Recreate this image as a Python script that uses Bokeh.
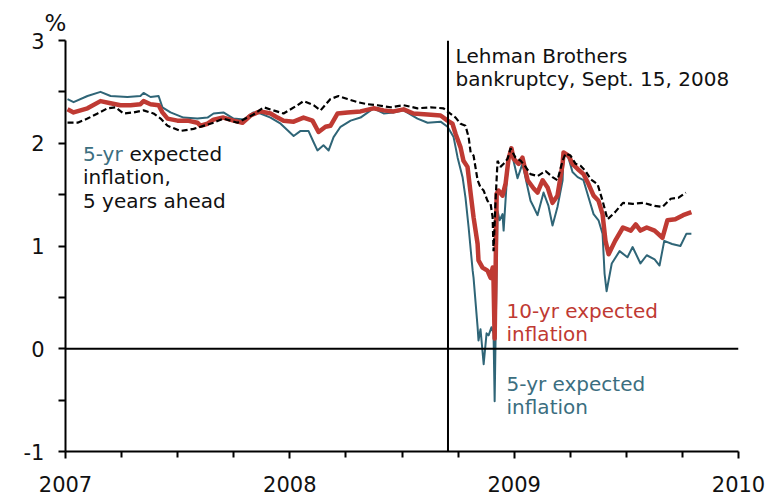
from bokeh.plotting import figure
from bokeh.models import Span, Label, FixedTicker, Title, CustomJSTickFormatter
from bokeh.embed import file_html
from bokeh.resources import INLINE

# ---------------- data (decimal years, percent) ----------------
# 10-yr expected inflation (red)
T10 = [2007.009, 2007.036, 2007.098, 2007.156, 2007.201, 2007.245, 2007.290, 2007.334,
       2007.348, 2007.379, 2007.415, 2007.432, 2007.455, 2007.499, 2007.544, 2007.588,
       2007.602, 2007.633, 2007.660, 2007.704, 2007.749, 2007.789, 2007.825, 2007.856,
       2007.869, 2007.914, 2007.945, 2007.972, 2008.017, 2008.061, 2008.101, 2008.128,
       2008.159, 2008.181, 2008.213, 2008.257, 2008.315, 2008.373, 2008.418, 2008.462,
       2008.507, 2008.551, 2008.614, 2008.672, 2008.703, 2008.725, 2008.739, 2008.761,
       2008.774, 2008.792, 2008.806, 2008.819, 2008.837, 2008.841, 2008.859, 2008.881,
       2008.895, 2008.904, 2008.908, 2008.913, 2008.922, 2008.930, 2008.948, 2008.962,
       2008.975, 2008.988, 2008.997, 2009.020, 2009.037, 2009.060, 2009.087, 2009.104,
       2009.127, 2009.149, 2009.171, 2009.193, 2009.216, 2009.220, 2009.242, 2009.260,
       2009.283, 2009.309, 2009.332, 2009.354, 2009.376, 2009.394, 2009.407, 2009.421,
       2009.450, 2009.485, 2009.520, 2009.542, 2009.563, 2009.591, 2009.626, 2009.661,
       2009.683, 2009.718, 2009.753, 2009.790]
V10 = [2.33, 2.30, 2.34, 2.41, 2.39, 2.37, 2.37, 2.38,
       2.41, 2.38, 2.37, 2.30, 2.24, 2.22, 2.22, 2.20,
       2.17, 2.19, 2.23, 2.25, 2.22, 2.20, 2.27, 2.30,
       2.31, 2.29, 2.25, 2.22, 2.21, 2.25, 2.22, 2.11,
       2.16, 2.17, 2.29, 2.30, 2.31, 2.34, 2.32, 2.31,
       2.33, 2.29, 2.28, 2.27, 2.22, 2.19, 2.09, 1.96,
       1.83, 1.77, 1.51, 1.28, 1.02, 0.86, 0.79, 0.76,
       0.69, 0.79, 0.66, 0.10, 1.51, 1.54, 1.49, 1.61,
       1.85, 1.95, 1.85, 1.80, 1.86, 1.64, 1.56, 1.52,
       1.64, 1.57, 1.42, 1.49, 1.80, 1.91, 1.88, 1.80,
       1.75, 1.70, 1.60, 1.49, 1.44, 1.31, 1.05, 0.92,
       1.05, 1.18, 1.15, 1.21, 1.15, 1.18, 1.15, 1.08,
       1.25, 1.26, 1.30, 1.33]

# 5-yr expected inflation (teal)
T5 = [2007.009, 2007.036, 2007.098, 2007.156, 2007.201, 2007.276, 2007.334, 2007.348,
      2007.379, 2007.415, 2007.432, 2007.468, 2007.526, 2007.588, 2007.633, 2007.660,
      2007.704, 2007.749, 2007.794, 2007.838, 2007.869, 2007.914, 2007.959, 2008.017,
      2008.048, 2008.083, 2008.106, 2008.123, 2008.150, 2008.173, 2008.195, 2008.226,
      2008.271, 2008.315, 2008.373, 2008.418, 2008.462, 2008.507, 2008.569, 2008.614,
      2008.672, 2008.703, 2008.730, 2008.748, 2008.770, 2008.783, 2008.797, 2008.815,
      2008.819, 2008.837, 2008.841, 2008.850, 2008.864, 2008.877, 2008.886, 2008.899,
      2008.908, 2008.913, 2008.917, 2008.926, 2008.935, 2008.948, 2008.953, 2008.971,
      2008.984, 2008.997, 2009.015, 2009.037, 2009.060, 2009.073, 2009.087, 2009.104,
      2009.131, 2009.153, 2009.171, 2009.193, 2009.216, 2009.220, 2009.242, 2009.260,
      2009.283, 2009.309, 2009.332, 2009.354, 2009.376, 2009.394, 2009.403, 2009.412,
      2009.435, 2009.470, 2009.505, 2009.528, 2009.563, 2009.591, 2009.626, 2009.648,
      2009.669, 2009.704, 2009.741, 2009.768, 2009.790]
V5 = [2.43, 2.40, 2.46, 2.50, 2.46, 2.45, 2.46, 2.49,
      2.45, 2.46, 2.35, 2.30, 2.25, 2.24, 2.25, 2.29,
      2.30, 2.24, 2.23, 2.30, 2.29, 2.25, 2.19, 2.07,
      2.12, 2.12, 2.01, 1.93, 1.98, 1.93, 2.06, 2.16,
      2.22, 2.25, 2.34, 2.29, 2.30, 2.32, 2.24, 2.20,
      2.21, 2.16, 2.06, 1.86, 1.67, 1.47, 1.18, 0.76,
      0.69, 0.21, 0.08, 0.19, -0.15, 0.15, 0.13, 0.21,
      0.15, -0.51, 0.08, 1.34, 1.25, 1.31, 1.15, 1.77,
      1.96, 1.83, 1.66, 1.80, 1.57, 1.44, 1.38, 1.30,
      1.52, 1.39, 1.20, 1.38, 1.64, 1.90, 1.86, 1.72,
      1.67, 1.64, 1.47, 1.31, 1.25, 1.12, 0.73, 0.56,
      0.83, 0.95, 0.89, 0.99, 0.83, 0.91, 0.87, 0.81,
      1.05, 1.02, 1.00, 1.12, 1.12]

# 5-yr expected inflation, 5 years ahead (black dashed)
T55 = [2007.009, 2007.054, 2007.098, 2007.143, 2007.187, 2007.223, 2007.259, 2007.303,
       2007.348, 2007.392, 2007.424, 2007.455, 2007.513, 2007.571, 2007.602, 2007.660,
       2007.704, 2007.767, 2007.811, 2007.838, 2007.883, 2007.927, 2007.972, 2008.034,
       2008.061, 2008.106, 2008.137, 2008.181, 2008.217, 2008.257, 2008.302, 2008.346,
       2008.391, 2008.449, 2008.507, 2008.569, 2008.627, 2008.685, 2008.708, 2008.739,
       2008.761, 2008.783, 2008.797, 2008.806, 2008.819, 2008.837, 2008.850, 2008.864,
       2008.881, 2008.895, 2008.904, 2008.908, 2008.917, 2008.926, 2008.939, 2008.953,
       2008.971, 2008.984, 2009.006, 2009.029, 2009.051, 2009.073, 2009.104, 2009.140,
       2009.171, 2009.193, 2009.216, 2009.229, 2009.251, 2009.274, 2009.296, 2009.318,
       2009.341, 2009.372, 2009.394, 2009.416, 2009.450, 2009.485, 2009.528, 2009.577,
       2009.626, 2009.661, 2009.698, 2009.733, 2009.765]
V55 = [2.20, 2.20, 2.24, 2.29, 2.34, 2.35, 2.29, 2.30,
       2.32, 2.29, 2.24, 2.17, 2.12, 2.14, 2.16, 2.20,
       2.24, 2.20, 2.25, 2.28, 2.35, 2.32, 2.29, 2.37,
       2.41, 2.37, 2.32, 2.43, 2.46, 2.43, 2.40, 2.38,
       2.37, 2.35, 2.37, 2.34, 2.35, 2.34, 2.30, 2.25,
       2.19, 2.17, 2.06, 1.91, 1.88, 1.64, 1.57, 1.54,
       1.44, 1.41, 1.28, 0.95, 1.44, 1.83, 1.77, 1.80,
       1.85, 1.95, 1.86, 1.83, 1.77, 1.70, 1.68, 1.73,
       1.67, 1.64, 1.83, 1.90, 1.88, 1.80, 1.78, 1.73,
       1.65, 1.60, 1.44, 1.26, 1.33, 1.42, 1.41, 1.42,
       1.39, 1.38, 1.46, 1.47, 1.52]

YEAR_TICKS = [2007, 2008, 2009, 2010]
QUARTER_TICKS = [2007.25, 2007.5, 2007.75, 2008.25, 2008.5, 2008.75,
                 2009.25, 2009.5, 2009.75]
Y_TICKS = [-1, 0, 1, 2, 3]
Y_MINOR_TICKS = [-0.5, 0.5, 1.5, 2.5]
LEHMAN_DATE = 2008.705   # Sept. 15, 2008

TEAL = "#2f6577"
TEAL_TEXT = "#3b6e80"
RED = "#bf3a33"
FONT = "DejaVu Sans"

p = figure(width=770, height=499, x_range=(2007, 2010), y_range=(-1, 3),
           output_backend="svg", toolbar_location=None,
           min_border_left=65, min_border_right=32, min_border_top=40, min_border_bottom=48)
p.grid.visible = False
p.outline_line_color = None
p.background_fill_color = "white"
p.border_fill_color = "white"

for ax in (p.xaxis[0], p.yaxis[0]):
    ax.axis_line_width = 2
    ax.axis_line_color = "black"
    ax.major_tick_line_width = 2
    ax.minor_tick_line_width = 2
    ax.major_tick_line_color = "black"
    ax.minor_tick_line_color = "black"
    ax.major_tick_in = 0
    ax.minor_tick_in = 0
    ax.major_tick_out = 7
    ax.minor_tick_out = 6
    ax.major_label_text_font = FONT
    ax.major_label_text_font_size = "21px"
    ax.major_label_text_color = "#111111"

p.xaxis.ticker = FixedTicker(ticks=YEAR_TICKS, minor_ticks=QUARTER_TICKS)
p.yaxis.ticker = FixedTicker(ticks=Y_TICKS, minor_ticks=Y_MINOR_TICKS)
p.yaxis.formatter = CustomJSTickFormatter(code="return tick.toString();")
p.yaxis.minor_tick_out = 7
p.xaxis.major_label_standoff = 17
p.yaxis.major_label_standoff = 14

# unit label above the y axis
p.add_layout(Title(text="%", align="left", offset=-21, standoff=9,
                   text_font=FONT, text_font_size="23px", text_font_style="normal",
                   text_color="#111111"), "above")

p.add_layout(Span(location=0, dimension="width", line_color="black", line_width=2))
p.add_layout(Span(location=LEHMAN_DATE, dimension="height", line_color="black", line_width=2))

p.line(T5, V5, line_color=TEAL, line_width=2, line_join="round")
p.line(T10, V10, line_color=RED, line_width=4.5, line_join="round")
p.line(T55, V55, line_color="black", line_width=2.2, line_dash="6 3")


def lab(x, y, text, color="#111111", x_offset=0):
    p.add_layout(Label(x=x, y=y, text=text, x_offset=x_offset, text_color=color,
                       text_font=FONT, text_font_size="20px",
                       text_align="left", text_baseline="alphabetic"))


lab(2008.739, 2.854, "Lehman Brothers")
lab(2008.739, 2.630, "bankruptcy, Sept. 15, 2008")
lab(2007.078, 1.895, "5-yr", color=TEAL_TEXT)
lab(2007.078, 1.895, "expected", x_offset=46.5)
lab(2007.078, 1.671, "inflation,")
lab(2007.078, 1.438, "5 years ahead")
lab(2008.966, 0.370, "10-yr expected", color=RED)
lab(2008.966, 0.146, "inflation", color=RED)
lab(2008.966, -0.341, "5-yr expected", color=TEAL_TEXT)
lab(2008.966, -0.565, "inflation", color=TEAL_TEXT)

open("out.html", "w").write(file_html(p, INLINE))
